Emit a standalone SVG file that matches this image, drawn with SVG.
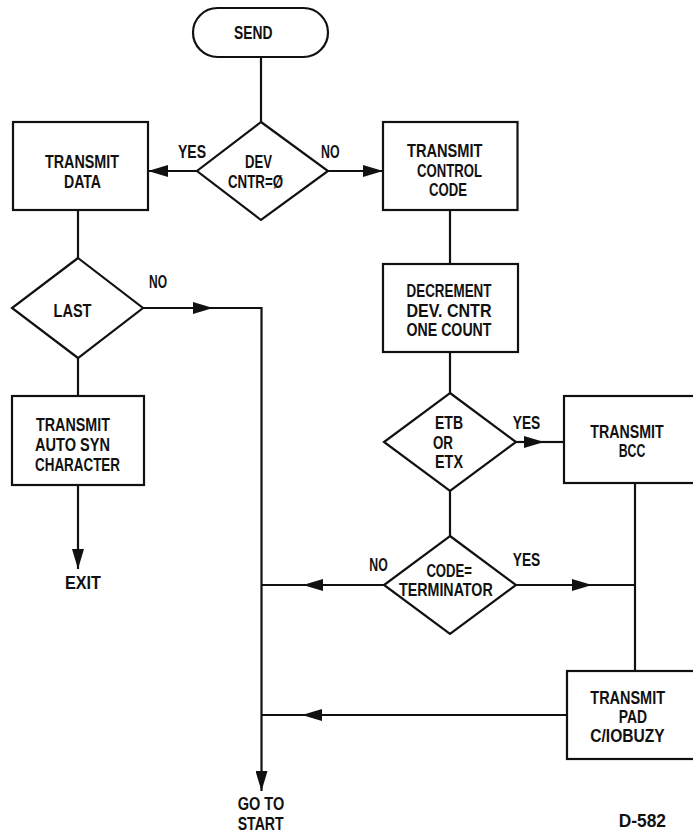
<svg xmlns="http://www.w3.org/2000/svg" width="693" height="835" viewBox="0 0 693 835">
<style>
.s{fill:#fff;stroke:#111;stroke-width:2.2}
.c{fill:none;stroke:#111;stroke-width:2.2}
.t{font-family:"Liberation Sans Narrow","Liberation Sans",Arial,sans-serif;font-size:18px;font-weight:bold;fill:#111}
</style>
<defs>
<marker id="ah" markerUnits="userSpaceOnUse" markerWidth="20" markerHeight="12" viewBox="0 0 20 12" refX="20" refY="6" orient="auto">
<path d="M0,0 L20,6 L0,12 z" fill="#111"/>
</marker>
</defs>
<rect width="693" height="835" fill="#fff"/>
<g id="connectors">
<line class="c" x1="261" y1="57" x2="261" y2="122"/>
<line class="c" x1="197" y1="171" x2="148" y2="171" marker-end="url(#ah)"/>
<line class="c" x1="328" y1="171" x2="383" y2="171" marker-end="url(#ah)"/>
<line class="c" x1="78" y1="210" x2="78" y2="258"/>
<line class="c" x1="143" y1="308" x2="213" y2="308" marker-end="url(#ah)"/>
<polyline class="c" points="213,308 261.5,308 261.5,791" marker-end="url(#ah)"/>
<line class="c" x1="78" y1="358" x2="78" y2="396"/>
<line class="c" x1="78" y1="485" x2="78" y2="569" marker-end="url(#ah)"/>
<line class="c" x1="450" y1="210" x2="450" y2="264"/>
<line class="c" x1="450" y1="352" x2="450" y2="393"/>
<line class="c" x1="516" y1="442" x2="544" y2="442" marker-end="url(#ah)"/>
<line class="c" x1="544" y1="442" x2="564" y2="442"/>
<line class="c" x1="450" y1="491" x2="450" y2="536"/>
<line class="c" x1="384" y1="585" x2="303" y2="585" marker-end="url(#ah)"/>
<line class="c" x1="303" y1="585" x2="261.5" y2="585"/>
<line class="c" x1="516" y1="585" x2="592" y2="585" marker-end="url(#ah)"/>
<line class="c" x1="592" y1="585" x2="635" y2="585"/>
<line class="c" x1="635" y1="483" x2="635" y2="671"/>
<line class="c" x1="567" y1="715" x2="302" y2="715" marker-end="url(#ah)"/>
<line class="c" x1="302" y1="715" x2="261.5" y2="715"/>
</g>
<g id="send">
<rect class="s" x="193" y="8" width="135" height="49" rx="24.5"/>
<text class="t" x="234" y="39" textLength="38.5" lengthAdjust="spacingAndGlyphs">SEND</text>
</g>
<g id="dev-cntr">
<polygon class="s" points="261,122 328,171 261,220 197,171"/>
<text class="t" x="245" y="168" textLength="27" lengthAdjust="spacingAndGlyphs">DEV</text>
<text class="t" x="228" y="188" textLength="55" lengthAdjust="spacingAndGlyphs">CNTR=Ø</text>
<text class="t" x="178" y="158" textLength="28" lengthAdjust="spacingAndGlyphs">YES</text>
<text class="t" x="321" y="158" textLength="18.5" lengthAdjust="spacingAndGlyphs">NO</text>
</g>
<g id="transmit-data">
<rect class="s" x="13" y="122" width="135" height="88"/>
<text class="t" x="45" y="168" textLength="74" lengthAdjust="spacingAndGlyphs">TRANSMIT</text>
<text class="t" x="64" y="188" textLength="37" lengthAdjust="spacingAndGlyphs">DATA</text>
</g>
<g id="transmit-control-code">
<rect class="s" x="383" y="122" width="134.5" height="88"/>
<text class="t" x="407" y="157" textLength="75.5" lengthAdjust="spacingAndGlyphs">TRANSMIT</text>
<text class="t" x="417" y="177" textLength="65" lengthAdjust="spacingAndGlyphs">CONTROL</text>
<text class="t" x="429" y="196" textLength="38" lengthAdjust="spacingAndGlyphs">CODE</text>
</g>
<g id="last">
<polygon class="s" points="78,258 143,308 78,358 12,308"/>
<text class="t" x="53.5" y="317" textLength="38" lengthAdjust="spacingAndGlyphs">LAST</text>
<text class="t" x="149" y="288" textLength="18" lengthAdjust="spacingAndGlyphs">NO</text>
</g>
<g id="decrement">
<rect class="s" x="383" y="264" width="135" height="88"/>
<text class="t" x="406.5" y="297" textLength="85" lengthAdjust="spacingAndGlyphs">DECREMENT</text>
<text class="t" x="406.5" y="317" textLength="85" lengthAdjust="spacingAndGlyphs">DEV. CNTR</text>
<text class="t" x="406.5" y="336" textLength="85" lengthAdjust="spacingAndGlyphs">ONE COUNT</text>
</g>
<g id="etb-etx">
<polygon class="s" points="450,393 516,442 450,491 384,442"/>
<text class="t" x="435" y="429" textLength="28" lengthAdjust="spacingAndGlyphs">ETB</text>
<text class="t" x="433" y="449" textLength="20" lengthAdjust="spacingAndGlyphs">OR</text>
<text class="t" x="435" y="468" textLength="28" lengthAdjust="spacingAndGlyphs">ETX</text>
<text class="t" x="512.7" y="429" textLength="27.6" lengthAdjust="spacingAndGlyphs">YES</text>
</g>
<g id="transmit-bcc">
<rect class="s" x="564" y="396" width="140" height="87"/>
<text class="t" x="590.3" y="438" textLength="73.4" lengthAdjust="spacingAndGlyphs">TRANSMIT</text>
<text class="t" x="618.7" y="457" textLength="26.6" lengthAdjust="spacingAndGlyphs">BCC</text>
</g>
<g id="transmit-auto-syn">
<rect class="s" x="12" y="396" width="132" height="89"/>
<text class="t" x="36" y="431" textLength="74" lengthAdjust="spacingAndGlyphs">TRANSMIT</text>
<text class="t" x="35" y="451" textLength="75" lengthAdjust="spacingAndGlyphs">AUTO SYN</text>
<text class="t" x="35" y="471" textLength="85" lengthAdjust="spacingAndGlyphs">CHARACTER</text>
</g>
<g id="exit">
<text class="t" x="65" y="589" textLength="36" lengthAdjust="spacingAndGlyphs">EXIT</text>
</g>
<g id="code-terminator">
<polygon class="s" points="450,536 516,585 450,634 384,585"/>
<text class="t" x="426.4" y="577" textLength="45.6" lengthAdjust="spacingAndGlyphs">CODE=</text>
<text class="t" x="399" y="596" textLength="93.7" lengthAdjust="spacingAndGlyphs">TERMINATOR</text>
<text class="t" x="369.3" y="571" textLength="18.4" lengthAdjust="spacingAndGlyphs">NO</text>
<text class="t" x="512.7" y="566" textLength="27.6" lengthAdjust="spacingAndGlyphs">YES</text>
</g>
<g id="transmit-pad">
<rect class="s" x="567" y="671" width="140" height="88"/>
<text class="t" x="590.3" y="704" textLength="74.7" lengthAdjust="spacingAndGlyphs">TRANSMIT</text>
<text class="t" x="618.7" y="723" textLength="28.3" lengthAdjust="spacingAndGlyphs">PAD</text>
<text class="t" x="590.3" y="742" textLength="74.4" lengthAdjust="spacingAndGlyphs">C/IOBUZY</text>
</g>
<g id="go-to-start">
<text class="t" x="237.7" y="810" textLength="46.6" lengthAdjust="spacingAndGlyphs">GO TO</text>
<text class="t" x="237.7" y="830" textLength="46" lengthAdjust="spacingAndGlyphs">START</text>
</g>
<g id="label-d582">
<text class="t" x="618.7" y="827" textLength="47.3" lengthAdjust="spacingAndGlyphs">D-582</text>
</g>
</svg>
